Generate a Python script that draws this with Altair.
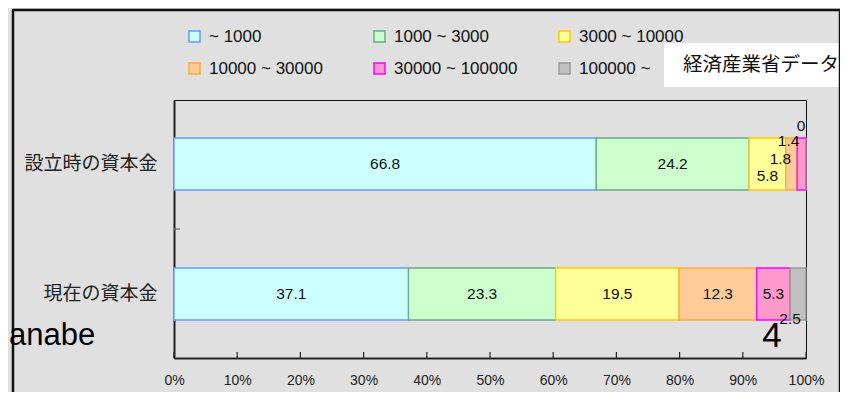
import altair as alt
import pandas as pd

categories = ["設立時の資本金", "現在の資本金"]
bands = [" ~ 1000", "1000 ~ 3000", "3000 ~ 10000", "10000 ~ 30000", "30000 ~ 100000", "100000 ~"]
at_founding = [66.8, 24.2, 5.8, 1.8, 1.4, 0]
current = [37.1, 23.3, 19.5, 12.3, 5.3, 2.5]
fill_colors = ["#ccffff", "#ccffcc", "#ffff99", "#ffcc99", "#ff99cc", "#c0c0c0"]
stroke_colors = ["#6699ff", "#66aa88", "#ffcc00", "#ffaa33", "#ff00ff", "#999999"]
x_ticks = [0, 10, 20, 30, 40, 50, 60, 70, 80, 90, 100]
source_note = "経済産業省データ"
author_fragment = "anabe"
page_number = "4"

rows = []
for cat, vals in zip(categories, [at_founding, current]):
    for i, (b, v) in enumerate(zip(bands, vals)):
        rows.append({"cat": cat, "band": b, "order": i, "value": v, "label": f"{v:g}"})
df = pd.DataFrame(rows)

LATIN = "Liberation Sans"
CJK = "Noto Sans CJK JP"

legend_cfg = alt.Legend(
    title=None, orient="none", legendX=12, legendY=-72, columns=3, direction="horizontal",
    symbolType="square", symbolSize=121, symbolStrokeWidth=1.5,
    labelFont=LATIN, labelFontSize=17, labelColor="#111", labelOffset=6,
    labelLimit=400, gridAlign="all", columnPadding=38, rowPadding=14, padding=0,
)

base = alt.Chart(df)

bars = base.mark_bar(strokeWidth=1.3).encode(
    x=alt.X("value:Q", stack="zero",
            scale=alt.Scale(domain=[0, 100], nice=False),
            axis=alt.Axis(values=x_ticks, labelExpr="datum.value + '%'", ticks=False, grid=False,
                          domainColor="#222", domainWidth=2, labelFont=LATIN, labelFontSize=14,
                          labelColor="#222", labelPadding=15, labelFlush=False, title=None)),
    y=alt.Y("cat:N", sort=categories,
            scale=alt.Scale(paddingInner=0.6, paddingOuter=0.2923),
            axis=alt.Axis(title=None, ticks=False, domainColor="#222", domainWidth=2,
                          labelFont=CJK, labelFontSize=19, labelColor="#222",
                          labelPadding=17, labelAngle=0)),
    fill=alt.Fill("band:N", scale=alt.Scale(domain=bands, range=fill_colors), legend=legend_cfg),
    stroke=alt.Stroke("band:N", scale=alt.Scale(domain=bands, range=stroke_colors), legend=legend_cfg),
    order=alt.Order("order:Q"),
)

lab_base = base.transform_stack(
    stack="value", groupby=["cat"], sort=[alt.SortField("order")], as_=["x0", "x1"]
).transform_calculate(mid="(datum.x0 + datum.x1) / 2")

nudges = {
    ("設立時の資本金", 2): (0, 12),
    ("設立時の資本金", 3): (-11, -5),
    ("設立時の資本金", 4): (-13, -23),
    ("設立時の資本金", 5): (-5, -38),
    ("現在の資本金", 5): (-8, 25),
}

def cond(cat, o):
    return f"(datum.cat == '{cat}' && datum.order == {o})"

main_filter = "!(" + " || ".join(cond(c, o) for (c, o) in nudges) + ")"

text_kw = dict(font=LATIN, fontSize=15.5, color="#111", baseline="middle", align="center")

main_text = lab_base.transform_filter(main_filter).mark_text(**text_kw).encode(
    x=alt.X("mid:Q"), y=alt.Y("cat:N", sort=categories), text="label:N"
)

nudge_layers = []
for (c, o), (dx, dy) in nudges.items():
    nudge_layers.append(
        lab_base.transform_filter(cond(c, o)).mark_text(dx=dx, dy=dy, **text_kw).encode(
            x=alt.X("mid:Q"), y=alt.Y("cat:N", sort=categories), text="label:N"
        )
    )

tick_rules = alt.Chart(pd.DataFrame({"t": x_ticks})).mark_rule(color="#222", strokeWidth=1.2).encode(
    x=alt.X("t:Q"), y=alt.value(252), y2=alt.value(258)
)

one = pd.DataFrame({"note": [source_note], "author": [author_fragment], "page": [page_number]})
deco = alt.Chart(one)

cat_tick = deco.mark_rule(color="#666", strokeWidth=1.2).encode(
    x=alt.value(0), x2=alt.value(6), y=alt.value(129)
)

note_box = deco.mark_rect(fill="white").encode(
    x=alt.value(490), x2=alt.value(690), y=alt.value(-57), y2=alt.value(-13)
)
note_text = deco.mark_text(font=CJK, fontSize=19.5, color="#111", align="left", baseline="middle").encode(
    x=alt.value(509), y=alt.value(-35), text="note:N"
)

frame_color = "#111"
frame_left = deco.mark_rule(color=frame_color, strokeWidth=2.5).encode(
    x=alt.value(-161), y=alt.value(-90), y2=alt.value(320)
)
frame_top = deco.mark_rule(color=frame_color, strokeWidth=2.5).encode(
    x=alt.value(-162), x2=alt.value(674), y=alt.value(-90)
)
frame_right = deco.mark_rule(color=frame_color, strokeWidth=2.5).encode(
    x=alt.value(666), y=alt.value(-90), y2=alt.value(320)
)

author_text = deco.mark_text(font=LATIN, fontSize=31, color="#000", align="left", baseline="alphabetic").encode(
    x=alt.value(-165), y=alt.value(245), text="author:N"
)
page_text = deco.mark_text(font=LATIN, fontSize=35, color="#000", align="center", baseline="alphabetic").encode(
    x=alt.value(598), y=alt.value(247), text="page:N"
)

chart = alt.layer(
    note_box, bars, main_text, *nudge_layers, tick_rules, cat_tick, note_text,
    frame_left, frame_top, frame_right, author_text, page_text
).properties(
    width=632, height=258,
    autosize=alt.AutoSizeParams(type="none"),
    padding={"left": 166, "top": 92, "right": 34, "bottom": 34},
    background="#e0e0e0",
).configure_view(stroke="#111", strokeWidth=1)

chart.save("out.html", embed_options={"renderer": "svg", "actions": False})
